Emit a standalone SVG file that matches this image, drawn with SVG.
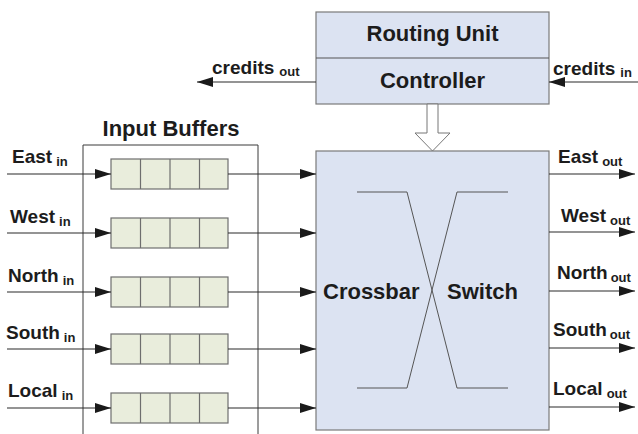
<svg xmlns="http://www.w3.org/2000/svg" width="638" height="434" viewBox="0 0 638 434">
  <defs>
    <marker id="arrow" markerUnits="userSpaceOnUse" markerWidth="16" markerHeight="10" refX="16" refY="5" orient="auto">
      <path d="M0,0 L16,5 L0,10 Z" fill="#1a1a1a"/>
    </marker>
    <g id="buffer">
      <rect x="0" y="-15" width="117" height="30" class="cell"/>
      <line x1="29.5" y1="-15" x2="29.5" y2="15" class="cellDiv"/>
      <line x1="59" y1="-15" x2="59" y2="15" class="cellDiv"/>
      <line x1="88.5" y1="-15" x2="88.5" y2="15" class="cellDiv"/>
    </g>
  </defs>
  <style>
    .block { fill: #dce3f2; stroke: #7a7a7a; stroke-width: 1.2; }
    .cell { fill: #e9eddc; stroke: #6e6e6e; stroke-width: 1.2; }
    .cellDiv { stroke: #6e6e6e; stroke-width: 1.2; }
    .wire { stroke: #2a2a2a; stroke-width: 1.1; fill: none; marker-end: url(#arrow); }
    .frame { stroke: #3a3a3a; stroke-width: 1; fill: none; }
    .xbar { stroke: #555; stroke-width: 1; fill: none; }
    text { font-family: "Liberation Sans", Arial, sans-serif; font-weight: bold; fill: #1c1c1c; }
    .big { font-size: 22px; }
    .lbl { font-size: 19px; }
    .sub { font-size: 13px; }
  </style>

  <rect width="638" height="434" fill="#ffffff"/>

  <!-- Input buffer frame (open at the bottom) -->
  <g id="input-buffers">
    <path class="frame" d="M83,434 L83,145 L258,145 L258,434"/>
    <text class="big" x="171" y="136" text-anchor="middle">Input Buffers</text>
    <use href="#buffer" x="111" y="174"/>
    <use href="#buffer" x="111" y="233"/>
    <use href="#buffer" x="111" y="292"/>
    <use href="#buffer" x="111" y="349"/>
    <use href="#buffer" x="111" y="408"/>
  </g>

  <!-- Routing unit / controller -->
  <g id="routing-unit">
    <rect class="block" x="316" y="12" width="233" height="92"/>
    <line x1="316" y1="58" x2="549" y2="58" stroke="#555" stroke-width="1.2"/>
    <text class="big" x="432.5" y="41" text-anchor="middle">Routing Unit</text>
    <text class="big" x="432.5" y="88" text-anchor="middle">Controller</text>
  </g>

  <!-- Control arrow into the switch -->
  <g id="control-arrow">
    <polygon points="427,104 438,104 438,133 450,133 432.5,151 415,133 427,133" fill="#ffffff" stroke="#777" stroke-width="1"/>
  </g>

  <!-- Crossbar switch -->
  <g id="crossbar-switch">
    <rect class="block" x="316" y="151" width="233" height="279"/>
    <polyline class="xbar" points="357,192 407,192 457,388 508,388"/>
    <polyline class="xbar" points="357,388 407,388 457,192 508,192"/>
    <text class="big" x="323" y="299">Crossbar</text>
    <text class="big" x="447" y="299">Switch</text>
  </g>

  <!-- Connectors -->
  <g id="connectors">
    <!-- inputs into buffers -->
    <line class="wire" x1="7" y1="174" x2="111" y2="174"/>
    <line class="wire" x1="7" y1="233" x2="111" y2="233"/>
    <line class="wire" x1="7" y1="292" x2="111" y2="292"/>
    <line class="wire" x1="7" y1="349" x2="111" y2="349"/>
    <line class="wire" x1="7" y1="408" x2="111" y2="408"/>
    <!-- buffers into crossbar -->
    <line class="wire" x1="228" y1="174" x2="316" y2="174"/>
    <line class="wire" x1="228" y1="233" x2="316" y2="233"/>
    <line class="wire" x1="228" y1="292" x2="316" y2="292"/>
    <line class="wire" x1="228" y1="349" x2="316" y2="349"/>
    <line class="wire" x1="228" y1="408" x2="316" y2="408"/>
    <!-- crossbar outputs -->
    <line class="wire" x1="549" y1="174" x2="635" y2="174"/>
    <line class="wire" x1="549" y1="232" x2="635" y2="232"/>
    <line class="wire" x1="549" y1="291" x2="635" y2="291"/>
    <line class="wire" x1="549" y1="348" x2="635" y2="348"/>
    <line class="wire" x1="549" y1="407" x2="635" y2="407"/>
    <!-- credits -->
    <line class="wire" x1="316" y1="82" x2="197" y2="82"/>
    <line class="wire" x1="638" y1="82" x2="549" y2="82"/>
  </g>

  <!-- Port labels -->
  <g id="labels">
    <text class="lbl" x="12" y="163">East<tspan class="sub" dx="4" dy="3">in</tspan></text>
    <text class="lbl" x="10" y="223">West<tspan class="sub" dx="4" dy="3">in</tspan></text>
    <text class="lbl" x="8" y="282">North<tspan class="sub" dx="4" dy="3">in</tspan></text>
    <text class="lbl" x="6" y="339">South<tspan class="sub" dx="4" dy="3">in</tspan></text>
    <text class="lbl" x="8" y="397">Local<tspan class="sub" dx="4" dy="3">in</tspan></text>

    <text class="lbl" x="558" y="163">East<tspan class="sub" dx="4" dy="3">out</tspan></text>
    <text class="lbl" x="561" y="222">West<tspan class="sub" dx="4" dy="3">out</tspan></text>
    <text class="lbl" x="557" y="279">North<tspan class="sub" dx="3" dy="3">out</tspan></text>
    <text class="lbl" x="553" y="336">South<tspan class="sub" dx="3" dy="3">out</tspan></text>
    <text class="lbl" x="553" y="395">Local<tspan class="sub" dx="4" dy="3">out</tspan></text>

    <text class="lbl" x="212" y="74">credits<tspan class="sub" dx="5" dy="2">out</tspan></text>
    <text class="lbl" x="553" y="75">credits<tspan class="sub" dx="5" dy="2">in</tspan></text>
  </g>
</svg>
